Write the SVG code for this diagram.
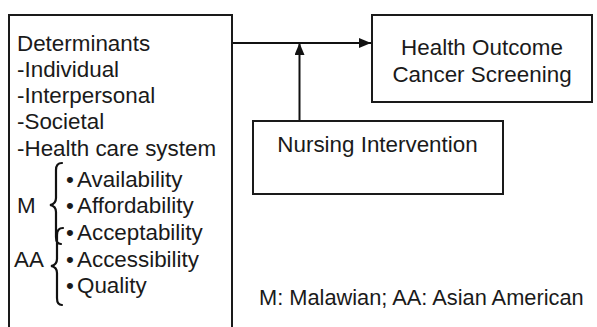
<svg xmlns="http://www.w3.org/2000/svg" width="597" height="327" viewBox="0 0 597 327">
<style>
.box{fill:#fff;stroke:#1a1a1a;stroke-width:2}
.t{font-family:"Liberation Sans",Arial,sans-serif;font-size:22.4px;fill:#1a1a1a}
.fn{font-size:21.8px}
.c{text-anchor:middle}
.ln{stroke:#111;stroke-width:2;fill:none}
.br{stroke:#111;stroke-width:2.2;fill:none;stroke-linecap:round}
</style>
<defs>
<marker id="ah" viewBox="0 0 12 10" refX="12" refY="5" markerWidth="12" markerHeight="10" markerUnits="userSpaceOnUse" orient="auto">
<path d="M0 0 L12 5 L0 10 Z" fill="#111"/>
</marker>
</defs>
<g id="connectors">
<line class="ln" x1="232" y1="43" x2="371" y2="43" marker-end="url(#ah)"/>
<line class="ln" x1="299.5" y1="121" x2="299.5" y2="43" marker-end="url(#ah)"/>
</g>
<g id="determinants">
<rect class="box" x="9" y="15" width="223" height="330"/>
<text class="t" x="17" y="51">Determinants</text>
<text class="t" x="17" y="77">-Individual</text>
<text class="t" x="17" y="103">-Interpersonal</text>
<text class="t" x="17" y="129">-Societal</text>
<text class="t" x="17" y="155.5">-Health care system</text>
<text class="t" x="17" y="213">M</text>
<text class="t" x="14" y="267">AA</text>
<path class="br" d="M62 163 Q56 163 56 170 L56 198 Q56 204 50 205 Q56 206 56 212 L56 237 Q56 244 61 244"/>
<path class="br" d="M63 228 Q57 228 57 235 L57 259 Q57 265 51 266 Q57 267 57 273 L57 298 Q57 305 62 305"/>
<text class="t c" x="70" y="187">•</text>
<text class="t" x="77" y="187">Availability</text>
<text class="t c" x="70" y="213">•</text>
<text class="t" x="77" y="213">Affordability</text>
<text class="t c" x="70" y="240">•</text>
<text class="t" x="77" y="240">Acceptability</text>
<text class="t c" x="70" y="267">•</text>
<text class="t" x="77" y="267">Accessibility</text>
<text class="t c" x="70" y="293">•</text>
<text class="t" x="77" y="293">Quality</text>
</g>
<g id="outcome">
<rect class="box" x="372" y="15" width="220" height="87"/>
<text class="t c" x="482" y="55">Health Outcome</text>
<text class="t c" x="482" y="82">Cancer Screening</text>
</g>
<g id="nursing">
<rect class="box" x="253" y="121" width="250" height="73"/>
<text class="t c" x="377.5" y="151.5">Nursing Intervention</text>
</g>
<text class="t fn" x="259" y="305">M: Malawian; AA: Asian American</text>
</svg>
